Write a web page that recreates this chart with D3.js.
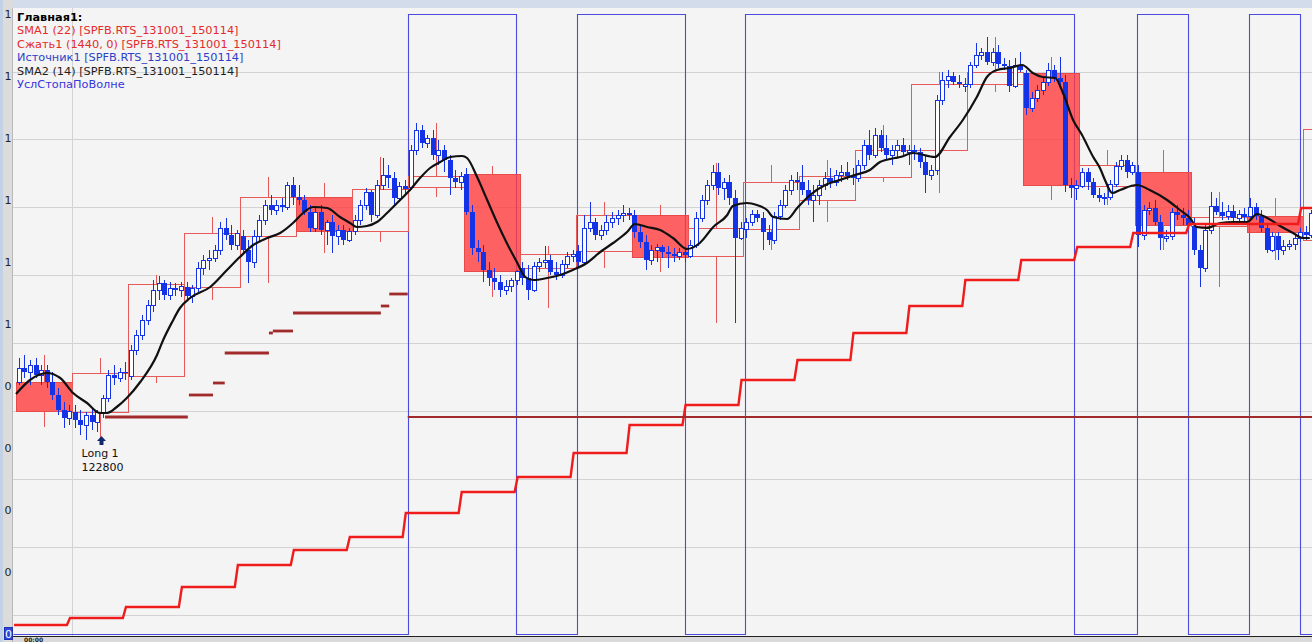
<!DOCTYPE html>
<html><head><meta charset="utf-8">
<script src="https://cdn.jsdelivr.net/npm/d3@7/dist/d3.min.js"></script>
<style>html,body{margin:0;padding:0;background:#f4f4f4;overflow:hidden}svg{display:block}</style>
</head><body><svg id="c" width="1312" height="642"></svg>
<script>
// ---------------- DATA ----------------
const legendTitle = "Главная1:";
const legendItems = [
  "SMA1 (22) [SPFB.RTS_131001_150114]",
  "Сжать1 (1440, 0) [SPFB.RTS_131001_150114]",
  "Источник1 [SPFB.RTS_131001_150114]",
  "SMA2 (14) [SPFB.RTS_131001_150114]",
  "УслСтопаПоВолне"
];
const legendColors = ["#e32b2b", "#e32b2b", "#2c3fc8", "#1e1e1e", "#3535dc"];

// left axis labels (truncated values) for the 0..1 indicator scale
const axisLabelVals = [1, 0.9, 0.8, 0.7, 0.6, 0.5, 0.4, 0.3, 0.2, 0.1];
const axisLabels = ["1", "1", "1", "1", "1", "1", "0", "0", "0", "0"];
const currentLabelVal = 0, currentLabel = "0";
const timeLabel = "00:00";

// horizontal price grid values, vertical grid (days)
const gridPrices = [928.5, 860.6, 792.7, 724.8, 656.9, 589.0, 521.1, 453.2, 385.3];
const gridDays = [1];

// daily compressed bars (Сжать1 1440)
const dayOpen  = [618,588,624,713,764,803,769,813,826,732,749,785,744,771,800,823,850,916,927,814,828,774,784,760];
const dayHigh  = [645,642,725,783,823,817,843,877,834,754,798,795,837,835,840,875,928,963,943,850,850,808,802,875];
const dayLow   = [573,560,617,700,717,747,758,803,703,692,732,728,677,750,778,818,807,908,800,795,750,713,740,758];
const dayClose = [589,627,716,767,803,769,811,824,729,746,785,743,772,818,824,850,916,928,815,835,775,783,768,871];

// intraday candles (Источник1), 10 per day: [open, high, low, close]
const candles = [
  // day 0
  [618,642,615,632],[632,645,622,628],[628,640,615,635],[635,642,622,625],[625,635,615,630],
  [630,635,612,618],[618,628,600,605],[605,612,585,590],[590,598,572,582],[582,595,575,589],
  // day 1
  [588,595,572,580],[580,590,565,575],[575,588,560,585],[585,592,570,578],[578,590,568,588],
  [588,605,582,602],[602,630,598,625],[625,635,615,622],[622,632,618,628],[628,638,620,627],
  // day 2
  [624,655,620,650],[650,670,645,665],[665,685,660,680],[680,700,675,695],[695,720,688,710],
  [710,724,700,717],[717,720,700,705],[705,718,700,712],[712,717,704,710],[710,718,703,714],
  // day 3
  [713,718,700,704],[704,715,697,712],[712,738,708,732],[732,745,725,740],[740,750,730,742],
  [742,755,738,750],[750,778,745,772],[772,782,760,765],[765,775,750,755],[755,770,750,767],
  // day 4
  [764,770,745,750],[750,760,717,738],[738,770,732,764],[764,785,758,780],[780,800,775,795],
  [795,805,785,790],[790,800,785,795],[795,802,788,793],[793,818,790,815],[815,823,795,803],
  // day 5
  [803,815,795,800],[800,805,785,788],[788,795,768,772],[772,792,768,788],[788,795,765,770],
  [770,780,755,778],[778,785,747,764],[764,775,755,770],[770,775,755,760],[760,772,758,769],
  // day 6
  [769,785,765,780],[780,800,775,795],[795,812,790,808],[808,810,778,785],[785,820,782,815],
  [815,842,810,825],[825,835,812,822],[822,828,795,802],[802,818,798,814],[814,820,805,811],
  // day 7
  [813,855,810,850],[850,877,845,870],[870,875,852,857],[857,865,852,862],[862,870,840,845],
  [845,860,835,850],[850,855,828,840],[840,845,805,822],[822,830,812,818],[818,828,810,824],
  // day 8
  [826,832,785,788],[788,795,745,752],[752,760,738,748],[748,755,718,730],[730,738,714,722],
  [722,732,710,718],[718,725,703,710],[710,720,705,714],[714,722,708,720],[720,730,715,729],
  // day 9
  [732,738,715,722],[722,735,700,710],[710,738,708,734],[734,742,728,738],[738,754,732,740],
  [740,745,725,728],[728,738,720,725],[725,740,722,736],[736,748,732,744],[744,750,738,746],
  // day 10
  [749,755,732,738],[738,785,735,772],[772,798,768,778],[778,782,760,765],[765,775,760,770],
  [770,785,765,778],[778,788,772,782],[782,790,775,785],[785,795,778,787],[787,792,780,785],
  // day 11
  [785,790,762,768],[768,775,752,758],[758,765,730,740],[740,755,735,750],[750,756,738,753],
  [753,755,742,748],[748,754,732,746],[746,752,738,744],[744,752,740,748],[748,752,738,745],
  // day 12
  [744,760,742,755],[755,788,752,782],[782,805,778,800],[800,820,795,815],[815,835,810,828],
  [828,837,805,812],[812,822,800,818],[818,825,795,802],[802,810,677,762],[762,778,760,772],
  // day 13
  [771,782,762,778],[778,790,774,786],[786,790,778,782],[782,788,750,768],[768,775,755,760],
  [760,788,756,784],[784,800,780,795],[795,815,792,810],[810,825,805,820],[820,828,810,818],
  // day 14
  [818,835,805,810],[810,820,795,800],[800,815,778,805],[805,820,795,815],[815,828,810,822],
  [822,832,812,818],[818,830,814,825],[825,835,818,828],[828,838,820,824],[824,832,815,822],
  // day 15
  [822,840,818,835],[835,860,830,855],[855,870,840,845],[845,872,842,865],[865,870,848,852],
  [852,865,840,845],[845,855,835,850],[850,860,842,855],[855,862,845,848],[848,855,835,850],
  // day 16
  [850,855,840,848],[848,852,832,838],[838,845,807,825],[825,835,820,830],[830,905,825,900],
  [900,928,895,920],[920,930,912,924],[924,928,915,918],[918,925,912,916],[914,922,908,916],
  // day 17
  [916,938,912,935],[935,957,932,945],[945,952,940,948],[948,963,935,938],[938,952,934,948],
  [948,955,932,936],[936,942,930,934],[934,940,908,914],[914,942,912,935],[935,948,928,930],
  // day 18
  [927,930,885,892],[892,908,888,902],[902,915,898,910],[910,922,905,918],[918,937,914,930],
  [930,935,918,922],[922,943,912,918],[918,925,808,815],[815,822,802,812],[812,820,800,815],
  // day 19
  [814,832,812,828],[828,832,810,818],[818,822,802,805],[805,812,798,802],[802,807,795,803],
  [803,820,800,816],[816,838,813,834],[834,845,830,840],[840,845,822,828],[828,838,825,835],
  // day 20
  [828,835,753,765],[765,795,760,790],[790,798,785,792],[792,800,775,778],[778,785,750,762],
  [762,770,758,764],[764,792,760,788],[788,795,780,785],[785,792,775,782],[782,790,772,775],
  // day 21
  [774,782,745,750],[750,755,713,732],[732,775,728,770],[770,808,766,794],[794,802,785,788],
  [788,798,780,784],[784,795,780,789],[789,795,778,782],[782,790,778,786],[786,792,778,783],
  // day 22
  [784,802,782,793],[793,797,780,784],[784,790,768,772],[772,775,747,750],[750,768,748,764],
  [764,768,740,750],[750,760,745,754],[754,760,750,756],[756,765,750,762],[762,772,758,768],
  // day 23
  [768,774,760,765],[765,790,762,787]
];

// SMA1 (22): value per day (staircase)
const sma1 = [375,382,393,413,435,450,463,487,508,523,547,575,595,620,640,667,694,720,740,753,767,776,776,792];

// SMA2 (14): [day, value]
const sma2 = [[0,606],[0.25,620],[0.55,627],[0.79,622],[1.02,607],[1.27,597],[1.50,587],[1.63,587],[1.80,593],[1.98,602],
  [2.22,618],[2.52,645],[2.63,660],[2.79,678],[2.93,692],[3.11,702],[3.47,713],[3.77,730],[4.00,743],[4.24,755],
  [4.49,762],[4.72,767],[4.95,777],[5.13,787],[5.31,793],[5.56,792],[5.79,783],[5.97,777],[6.09,773],[6.27,774],
  [6.45,778],[6.63,787],[6.81,797],[7.04,810],[7.22,822],[7.40,832],[7.58,838],[7.76,843],[7.97,844],[8.06,842],
  [8.24,823],[8.42,800],[8.60,777],[8.77,757],[8.95,738],[9.10,723],[9.24,720],[9.49,722],[9.72,725],[9.95,730],
  [10.20,737],[10.44,748],[10.67,757],[10.92,768],[11.06,776],[11.28,773],[11.51,770],[11.74,762],[11.99,751],[12.22,757],
  [12.46,773],[12.71,785],[12.81,794],[13.06,797],[13.24,795],[13.42,790],[13.53,783],[13.78,781],[13.96,792],[14.19,805],
  [14.46,815],[14.72,820],[14.99,825],[15.26,830],[15.44,838],[15.71,842],[15.80,843],[16.03,847],[16.42,843],[16.69,863],
  [16.92,880],[17.17,903],[17.35,923],[17.53,930],[17.76,932],[17.98,935],[18.17,927],[18.35,923],[18.57,922],[18.71,907],
  [18.89,880],[19.05,865],[19.25,843],[19.37,832],[19.46,820],[19.59,807],[19.73,810],[20.03,815],[20.26,810],[20.57,800],
  [20.80,790],[20.98,782],[21.10,773],[21.28,772],[21.52,777],[21.75,778],[22.00,778],[22.18,786],[22.36,782],[22.59,774],
  [22.82,767],[23.00,762],[23.12,762]];

// УслСтопаПоВолне: 0/1 wave, switching at these days
const waveDays = [-0.05, 7.0, 8.94, 10.03, 11.95, 13.03, 18.91, 20.03, 20.94, 22.03, 22.95, 23.3];
const waveVals = [0, 1, 0, 1, 0, 1, 0, 1, 0, 1, 0, 0];

// stop levels: segments [startDay, endDay, price]
const stopStart = [1.59, 3.09, 3.52, 3.73, 4.52, 4.59, 4.95, 6.52, 6.67, 7.0];
const stopEnd   = [3.07, 3.52, 3.73, 4.52, 4.59, 4.95, 6.52, 6.67, 7.0, 23.3];
const stopPrice = [583, 605, 617, 647, 667, 669, 687, 694, 706, 583];

// trade marker
const tradeDay = 1.52, tradePrice = 564;
const tradeText = ["Long 1", "122800"];

// ---------------- DRAWING ----------------
const W = 1312, H = 642;
const BLUE = "#1432e6";
const svg = d3.select("#c");
const x = d3.scaleLinear().domain([0, 23.2]).range([16, 16 + 23.2 * 55.96]);
const y = d3.scaleLinear().domain([1000, 358]).range([0, 642]);
const yw = d3.scaleLinear().domain([0, 1]).range([634, 14]);

svg.append("defs").append("clipPath").attr("id", "plot")
  .append("rect").attr("x", 13).attr("y", 8).attr("width", W - 13).attr("height", 628);

svg.append("rect").attr("width", W).attr("height", H).attr("fill", "#f4f4f4");
const plot = svg.append("g").attr("clip-path", "url(#plot)");

// grid
plot.append("g").selectAll("line").data(gridPrices).join("line")
  .attr("x1", 13).attr("x2", W)
  .attr("y1", d => Math.round(y(d)) + 0.5).attr("y2", d => Math.round(y(d)) + 0.5)
  .attr("stroke", "#d3d3d3").attr("stroke-width", 1);
plot.append("g").selectAll("line").data(gridDays).join("line")
  .attr("x1", d => Math.round(x(d)) + 0.5).attr("x2", d => Math.round(x(d)) + 0.5)
  .attr("y1", 8).attr("y2", 636).attr("stroke", "#d3d3d3");

// wave
const wavePts = waveDays.map((d, i) => [d, waveVals[i]]);
plot.append("path").datum(wavePts)
  .attr("d", d3.line().x(d => Math.round(x(d[0])) + 0.5).y(d => Math.round(yw(d[1])) + 0.5).curve(d3.curveStepAfter))
  .attr("fill", "none").attr("stroke", "#4b4be0").attr("stroke-width", 1.1);

// daily bars
const days = dayOpen.map((o, i) => ({i, o, h: dayHigh[i], l: dayLow[i], c: dayClose[i]}));
const gd = plot.append("g");
days.forEach(d => {
  const x0 = Math.round(x(d.i)) + 0.5, x1 = Math.round(x(d.i + 1)) + 0.5;
  const xc = Math.round(x(d.i + 0.5)) + 0.5;
  const top = Math.round(y(Math.max(d.o, d.c))) + 0.5, bot = Math.round(y(Math.min(d.o, d.c))) + 0.5;
  gd.append("line").attr("x1", xc).attr("x2", xc).attr("y1", y(d.h)).attr("y2", top).attr("stroke", "#e65858");
  gd.append("line").attr("x1", xc).attr("x2", xc).attr("y1", bot).attr("y2", y(d.l)).attr("stroke", "#e65858");
  const up = d.c >= d.o;
  gd.append("rect").attr("x", x0).attr("y", top).attr("width", x1 - x0).attr("height", Math.max(1, bot - top))
    .attr("fill", up ? "none" : "rgba(255,60,60,0.8)")
    .attr("stroke", up ? "#e65a5a" : "#e84a4a").attr("stroke-width", 1);
});

// candles
const gc = plot.append("g");
candles.forEach((c, k) => {
  const day = Math.floor(k / 10), j = k % 10;
  const cx = Math.round(x(day + (j + 0.5) / 10)) + 0.5;
  const [o, h, l, cl] = c;
  const top = Math.round(y(Math.max(o, cl))), bot = Math.round(y(Math.min(o, cl)));
  gc.append("line").attr("x1", cx).attr("x2", cx).attr("y1", y(h)).attr("y2", y(l)).attr("stroke", BLUE).attr("stroke-width", 1);
  if (cl >= o) {
    gc.append("rect").attr("x", cx - 2).attr("y", top + 0.5).attr("width", 4).attr("height", Math.max(1, bot - top))
      .attr("fill", "#ffffff").attr("stroke", BLUE).attr("stroke-width", 1);
  } else {
    gc.append("rect").attr("x", cx - 2.5).attr("y", top).attr("width", 5).attr("height", Math.max(1, bot - top))
      .attr("fill", BLUE);
  }
});

// SMA2
plot.append("path").datum(sma2)
  .attr("d", d3.line().x(d => x(d[0])).y(d => y(d[1])).curve(d3.curveMonotoneX))
  .attr("fill", "none").attr("stroke", "#111").attr("stroke-width", 2.2);

// SMA1 staircase
const stairPts = [];
sma1.forEach((v, i) => { stairPts.push([i - 0.035, v]); stairPts.push([i + 1 - 0.09, v]); });
plot.append("path").datum(stairPts)
  .attr("d", d3.line().x(d => x(d[0])).y(d => y(d[1])))
  .attr("fill", "none").attr("stroke", "#f01c1c").attr("stroke-width", 2.4);

// stop segments
plot.append("g").selectAll("line").data(stopPrice).join("line")
  .attr("x1", (d, i) => x(stopStart[i])).attr("x2", (d, i) => x(stopEnd[i]))
  .attr("y1", d => y(d)).attr("y2", d => y(d))
  .attr("stroke", "#a12a2a").attr("stroke-width", (d, i) => i === stopPrice.length - 1 ? 2.2 : 2.8);

// trade arrow + text
const ax = Math.round(x(tradeDay)) + 0.5, ay = y(tradePrice);
plot.append("path")
  .attr("d", `M${ax},${ay} L${ax + 4.5},${ay + 5} L${ax + 2},${ay + 5} L${ax + 2},${ay + 9} L${ax - 2},${ay + 9} L${ax - 2},${ay + 5} L${ax - 4.5},${ay + 5} Z`)
  .attr("fill", "#13296e");
plot.selectAll("text.trade").data(tradeText).join("text").attr("class", "trade")
  .attr("x", ax - 20).attr("y", (d, i) => ay + 21 + i * 13.5)
  .attr("font-family", "DejaVu Sans, Verdana, sans-serif").attr("font-size", 11).attr("fill", "#111").text(d => d);

// frame: top strip, left axis strip, bottom
svg.append("rect").attr("x", 0).attr("y", 0).attr("width", W).attr("height", 8).attr("fill", "#d2dcea");
svg.append("rect").attr("x", 0).attr("y", 0).attr("width", 13).attr("height", H).attr("fill", "#dcdcdc");
svg.append("rect").attr("x", 0).attr("y", 0).attr("width", 3).attr("height", H).attr("fill", "#c3d1e6");
svg.append("line").attr("x1", 12.5).attr("x2", 12.5).attr("y1", 8).attr("y2", H).attr("stroke", "#b9b9b9");
svg.append("rect").attr("x", 13).attr("y", 637).attr("width", W - 13).attr("height", 5).attr("fill", "#dadada");
svg.append("line").attr("x1", 13).attr("x2", W).attr("y1", 636.5).attr("y2", 636.5).attr("stroke", "#222").attr("stroke-width", 1.2);
svg.append("text").attr("x", 24).attr("y", 641.5).attr("font-family", "DejaVu Sans, sans-serif")
  .attr("font-size", 6).attr("font-weight", "bold").attr("fill", "#222").text(timeLabel);

// left labels
svg.append("g").selectAll("text").data(axisLabelVals).join("text")
  .attr("x", 8).attr("y", d => yw(d) + 4).attr("text-anchor", "middle")
  .attr("font-family", "DejaVu Sans, sans-serif").attr("font-size", 11).attr("fill", "#222")
  .text((d, i) => axisLabels[i]);
svg.append("rect").attr("x", 4.5).attr("y", yw(currentLabelVal) - 6.5).attr("width", 8).attr("height", 12)
  .attr("fill", "#3046dc").attr("stroke", "#1f2fb0");
svg.append("text").attr("x", 8.5).attr("y", yw(currentLabelVal) + 4).attr("text-anchor", "middle")
  .attr("font-family", "DejaVu Sans, sans-serif").attr("font-size", 11).attr("fill", "#fff").text(currentLabel);

// legend
const lg = svg.append("g").attr("font-family", "DejaVu Sans, Verdana, sans-serif").attr("font-size", 11.3);
lg.append("text").attr("x", 17).attr("y", 20.5).attr("font-weight", "bold").attr("fill", "#000").text(legendTitle);
lg.selectAll("text.it").data(legendItems).join("text").attr("class", "it")
  .attr("x", 17).attr("y", (d, i) => 34 + i * 13.5).attr("fill", (d, i) => legendColors[i]).text(d => d);
</script>
</body></html>
